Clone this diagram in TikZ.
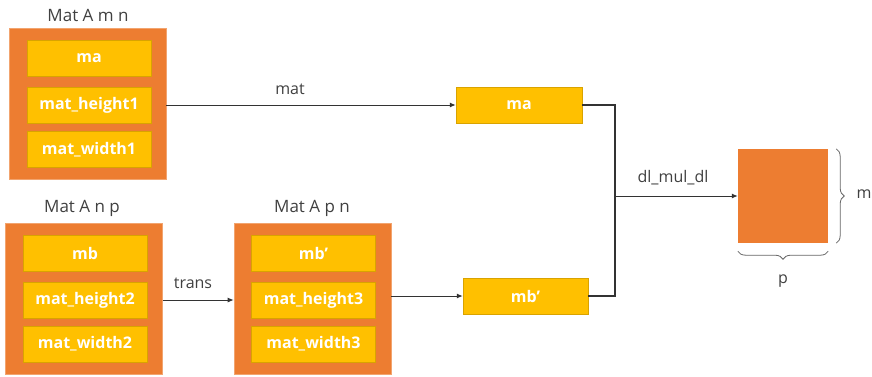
\documentclass[tikz,border=0pt]{standalone}
\usepackage{fontspec}
\setmainfont{Open Sans}
\usetikzlibrary{arrows.meta,decorations.pathreplacing}
\definecolor{matorange}{HTML}{ED7D31}
\definecolor{matgold}{HTML}{FFC000}
\definecolor{txtgray}{HTML}{404040}

\begin{document}
\begin{tikzpicture}[x=1pt, y=-1pt,
    outer/.style={fill=matorange, draw=matorange!70!white, line width=.6pt,
      minimum width=157pt, minimum height=151pt, inner sep=0pt},
    cell/.style={fill=matgold, draw=matgold!85!black, line width=.5pt,
      minimum width=124pt, minimum height=36pt, inner sep=0pt, text=white,
      font=\fontsize{16}{18}\selectfont\bfseries},
    title/.style={text=txtgray, font=\fontsize{17}{19}\selectfont},
    lbl/.style={text=txtgray, font=\fontsize{16}{18}\selectfont},
    conn/.style={draw=black!80, line width=1pt},
    arr/.style={conn, -{Latex[length=6pt,width=5pt]}},
    curly/.style={draw=txtgray!80, line width=.8pt,
      decorate, decoration={brace, amplitude=8pt}}]
  \useasboundingbox (0,0) rectangle (872,376);
  % Mat A m n
  \node[outer] (A) at (87.5,103.5) {};
  \node[title] (tA) at (88,15) {Mat A m n};
  \foreach \y/\t [count=\i] in {58/ma, 105/mat\_height1, 149.5/mat\_width1}{
    \node[cell] (A\i) at (89,\y) {\t};
  }
  % Mat A n p
  \node[outer] (B) at (84,298.5) {};
  \node[title] (tB) at (82,208) {Mat A n p};
  \foreach \y/\t [count=\i] in {253/mb, 300/mat\_height2, 344/mat\_width2}{
    \node[cell] (B\i) at (85,\y) {\t};
  }
  % Mat A p n
  \node[outer] (C) at (312.5,298.5) {};
  \node[title] (tC) at (312,208) {Mat A p n};
  \foreach \y/\t [count=\i] in {253/mb', 300/mat\_height3, 344/mat\_width3}{
    \node[cell] (C\i) at (313.5,\y) {\t};
  }
  % operands and result
  \node[cell, minimum width=126pt] (ma) at (519,105) {ma};
  \node[cell, minimum width=125pt] (mbp) at (525.5,296) {mb'};
  \node[fill=matorange, minimum width=90pt, minimum height=94pt, inner sep=0pt] (res) at (783,196) {};
  \coordinate (j) at (615,196);
  % connectors
  \draw[arr] (A.east |- A2) -- (ma);
  \node[lbl] (lmat) at (290,89) {mat};
  \draw[arr] (B.east |- B2) -- (C.west |- B2);
  \node[lbl] (ltrans) at (193,283) {trans};
  \draw[arr] (C.east |- mbp) -- (mbp);
  \draw[conn, line width=1.3pt] (ma.east) -| (j);
  \draw[conn, line width=1.3pt] (mbp.east) -| (j);
  \draw[arr] (j) -- (res);
  \node[lbl] (lmul) at (673,178) {dl\_mul\_dl};
  % sizes
  \draw[curly] ([xshift=8pt]res.north east) -- ([xshift=8pt]res.south east);
  \node[lbl] (lm) at (864,194) {m};
  \draw[curly] ([yshift=-8pt]res.south east) -- ([yshift=-8pt]res.south west);
  \node[lbl] (lp) at (783,281) {p};
\end{tikzpicture}
\end{document}
